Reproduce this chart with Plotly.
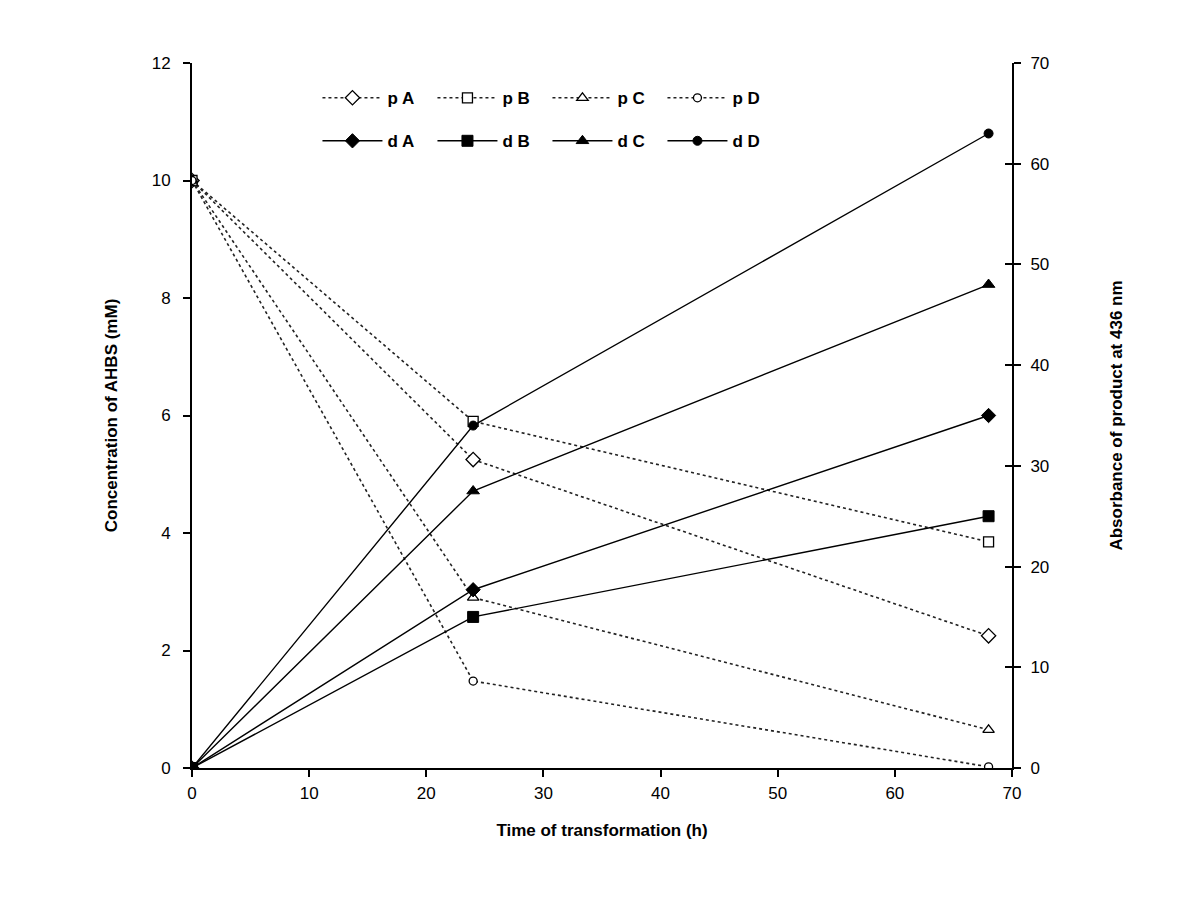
import plotly.graph_objects as go

time_h = [0, 24, 68]

pA = [10, 5.25, 2.25]
pB = [10, 5.9, 3.85]
pC = [10, 2.9, 0.65]
pD = [10, 1.48, 0.02]

dA = [0, 17.7, 35]
dB = [0, 15, 25]
dC = [0, 27.5, 48]
dD = [0, 34, 63]

p_names = ["p A", "p B", "p C", "p D"]
d_names = ["d A", "d B", "d C", "d D"]
p_series = [pA, pB, pC, pD]
d_series = [dA, dB, dC, dD]
symbols = ["diamond", "square", "triangle-up", "circle"]
p_sizes = [11, 10, 10, 8]
d_sizes = [11, 11, 11, 9]

FONT = "Liberation Sans, Arial, sans-serif"
fig = go.Figure()

for name, vals, sym, sz in zip(p_names, p_series, symbols, p_sizes):
    fig.add_trace(go.Scatter(
        x=time_h, y=vals, name=name, mode="lines+markers",
        line=dict(color="#222", width=1.6, dash="dot"),
        marker=dict(symbol=sym, size=sz, color="white",
                    line=dict(color="black", width=1.3)),
        yaxis="y", legend="legend"))

for name, vals, sym, sz in zip(d_names, d_series, symbols, d_sizes):
    fig.add_trace(go.Scatter(
        x=time_h, y=vals, name=name, mode="lines+markers",
        line=dict(color="black", width=1.4),
        marker=dict(symbol=sym, size=sz, color="black",
                    line=dict(color="black", width=1)),
        yaxis="y2", legend="legend2"))

# invisible helper trace so the inner half of the right-axis ticks is drawn
fig.add_trace(go.Scatter(x=time_h, y=dA, mode="none", yaxis="y3",
                         showlegend=False, hoverinfo="skip"))

axis_common = dict(showline=True, linecolor="black", linewidth=2,
                   ticks="outside", tickcolor="black", tickwidth=2, ticklen=7,
                   showgrid=False, zeroline=False,
                   tickfont=dict(family=FONT, size=17, color="black"))

legend_common = dict(orientation="h", xanchor="left", yanchor="middle",
                     bgcolor="rgba(0,0,0,0)", entrywidth=40, entrywidthmode="pixels",
                     font=dict(family=FONT, size=17, color="black", weight="bold"),
                     itemwidth=60)

title_font = dict(family=FONT, size=17, color="black")

fig.update_layout(
    width=1200, height=921,
    paper_bgcolor="white", plot_bgcolor="white",
    margin=dict(l=184, r=196, t=55, b=161),
    xaxis=dict(range=[0, 70], dtick=10, **axis_common, ticklabelstandoff=2,
               title=dict(text="<b>Time of transformation (h)</b>", standoff=22,
                          font=title_font)),
    yaxis=dict(range=[0, 12], dtick=2, **axis_common, ticklabelstandoff=9,
               title=dict(text="<b>Concentration of AHBS (mM)</b>", standoff=30,
                          font=title_font)),
    yaxis2=dict(range=[0, 70], dtick=10, overlaying="y", side="right", **axis_common,
                ticklabelstandoff=6,
                title=dict(text="<b>Absorbance of product at 436 nm</b>", standoff=62,
                           font=title_font)),
    yaxis3=dict(range=[0, 70], dtick=10, overlaying="y", side="right",
                showline=False, ticks="inside", tickcolor="black", tickwidth=2,
                ticklen=7, showticklabels=False, showgrid=False, zeroline=False),
    legend=dict(x=0.153, y=0.950, **legend_common),
    legend2=dict(x=0.153, y=0.889, **legend_common),
)

fig.write_html("out.html")
